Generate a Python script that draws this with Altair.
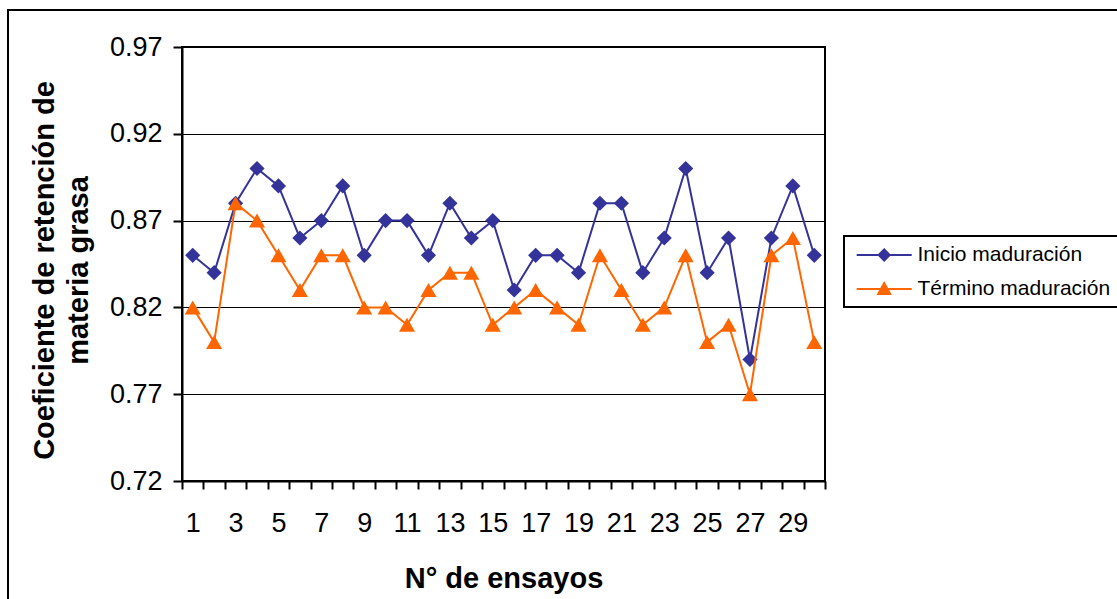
import altair as alt
import pandas as pd

# Ensayos y coeficientes de retención de materia grasa
ensayos = [1, 2, 3, 4, 5, 6, 7, 8, 9, 10, 11, 12, 13, 14, 15,
           16, 17, 18, 19, 20, 21, 22, 23, 24, 25, 26, 27, 28, 29, 30]
inicio = [0.85, 0.84, 0.88, 0.90, 0.89, 0.86, 0.87, 0.89, 0.85, 0.87,
          0.87, 0.85, 0.88, 0.86, 0.87, 0.83, 0.85, 0.85, 0.84, 0.88,
          0.88, 0.84, 0.86, 0.90, 0.84, 0.86, 0.79, 0.86, 0.89, 0.85]
termino = [0.82, 0.80, 0.88, 0.87, 0.85, 0.83, 0.85, 0.85, 0.82, 0.82,
           0.81, 0.83, 0.84, 0.84, 0.81, 0.82, 0.83, 0.82, 0.81, 0.85,
           0.83, 0.81, 0.82, 0.85, 0.80, 0.81, 0.77, 0.85, 0.86, 0.80]

series = ["Inicio maduración", "Término maduración"]
colores = ["#333399", "#FF6600"]
formas = ["diamond", "triangle-up"]
tamanos = [230, 260]
ticks_y = [0.72, 0.77, 0.82, 0.87, 0.92, 0.97]

FUENTE = "Liberation Sans"

df = pd.DataFrame({
    "ensayo": ensayos + ensayos,
    "valor": inicio + termino,
    "serie": [series[0]] * len(ensayos) + [series[1]] * len(ensayos),
})

# Marcas del eje X entre categorías, etiquetas sólo en los ensayos impares
limites_x = [e - 0.5 for e in ensayos] + [ensayos[-1] + 0.5]
etiquetas_x = [e for e in ensayos if e % 2 == 1]


def contorno(puntos, centro, escalas):
    """Polígonos concéntricos que, con trazo, dan un símbolo relleno."""
    partes = []
    for f in escalas:
        pts = [(centro[0] + (px - centro[0]) * f, centro[1] + (py - centro[1]) * f)
               for px, py in puntos]
        partes.append("M" + "L".join(f"{x:.3f},{y:.3f}" for x, y in pts) + "Z")
    return "".join(partes)


# Símbolos de la leyenda: tramo de línea con el marcador en el centro
cx = 2.12
tramo = "M-0.63,0L4.87,0"
rombo = contorno([(cx - 0.55, 0), (cx, -0.55), (cx + 0.55, 0), (cx, 0.55)],
                 (cx, 0), [1, 0.7, 0.4, 0.12])
triangulo = contorno([(cx, -0.6), (cx - 0.6, 0.5), (cx + 0.6, 0.5)],
                     (cx, 0.144), [1, 0.7, 0.4, 0.12])
simbolos_leyenda = [tramo + rombo, tramo + triangulo]

eje_x = alt.Axis(
    values=limites_x + etiquetas_x,
    labelExpr="datum.value % 2 == 1 ? datum.value : ''",
    tickOpacity={"condition": {"test": "datum.value % 1 != 0", "value": 1}, "value": 0},
    grid=False,
    labelOverlap=False,
    labelFlush=False,
    domainColor="black", domainWidth=2,
    tickColor="black", tickWidth=2, tickSize=8,
    labelFont=FUENTE, labelFontSize=27, labelColor="black", labelPadding=21,
    titleFont=FUENTE, titleFontSize=29, titleFontWeight="bold", titleColor="black",
    titleX=321.5, titleY=106, titleAlign="center", titleBaseline="alphabetic",
)

eje_y = alt.Axis(
    values=ticks_y,
    format=".2f",
    grid=True, gridColor="black", gridWidth=1, gridOpacity=1,
    domainColor="black", domainWidth=2,
    tickColor="black", tickWidth=2, tickSize=9,
    labelFont=FUENTE, labelFontSize=27, labelColor="black", labelPadding=11,
    titleFont=FUENTE, titleFontSize=29, titleFontWeight="bold", titleColor="black",
    titleX=-129, titleY=223, titleAngle=270, titleAlign="center",
    titleBaseline="alphabetic", titleLineHeight=34,
)

# La escala de color toma su dominio de los datos (orden alfabético = orden de series)
base = alt.Chart(df).encode(
    x=alt.X("ensayo:Q", title="N° de ensayos",
            scale=alt.Scale(domain=[0.5, 30.5], nice=False, zero=False), axis=eje_x),
    y=alt.Y("valor:Q", title=["Coeficiente de retención de", "materia grasa"],
            scale=alt.Scale(domain=[0.72, 0.97], nice=False, zero=False), axis=eje_y),
    color=alt.Color("serie:N", scale=alt.Scale(range=colores), legend=None),
)

# Marco exterior del gráfico
marco = alt.Chart(alt.Data(values=[{"marco": 1}])).mark_rect(
    fillOpacity=0, stroke="black", strokeWidth=2
).encode(
    x=alt.value(-174), x2=alt.value(1000), y=alt.value(-37), y2=alt.value(600)
)

capas = [marco]
for s, forma, tam in zip(series, formas, tamanos):
    sub = base.transform_filter(alt.datum.serie == s)
    capas.append(sub.mark_line(strokeWidth=2))
    capas.append(sub.mark_point(filled=True, shape=forma, size=tam, opacity=1))

props_leyenda = dict(
    title=None, orient="none", legendX=662, legendY=189, padding=8,
    strokeColor="black", fillColor="white",
    labelFont=FUENTE, labelFontSize=21, labelColor="black", labelLimit=400,
    labelOffset=43.5, symbolSize=400, symbolStrokeWidth=2, symbolOpacity=1,
    rowPadding=13,
)

# Capa sin marcas en el gráfico que sólo aporta la leyenda (línea + marcador)
leyenda = alt.Chart(df).transform_filter("false").mark_point(
    filled=False, strokeWidth=2, opacity=1
).encode(
    stroke=alt.Stroke("serie:N", scale=alt.Scale(domain=series, range=colores),
                      legend=alt.Legend(**props_leyenda)),
    shape=alt.Shape("serie:N", scale=alt.Scale(domain=series, range=simbolos_leyenda),
                    legend=alt.Legend(**props_leyenda)),
)
capas.append(leyenda)

chart = alt.layer(*capas).properties(
    width=643, height=434,
    autosize=alt.AutoSizeParams(type="none"),
    padding={"left": 182, "top": 47, "right": 292, "bottom": 118},
    background="white",
).configure_view(
    stroke="black", strokeWidth=2
).configure_legend(
    strokeWidth=2
)

chart.save("out.html", embed_options={"renderer": "svg", "actions": False})
